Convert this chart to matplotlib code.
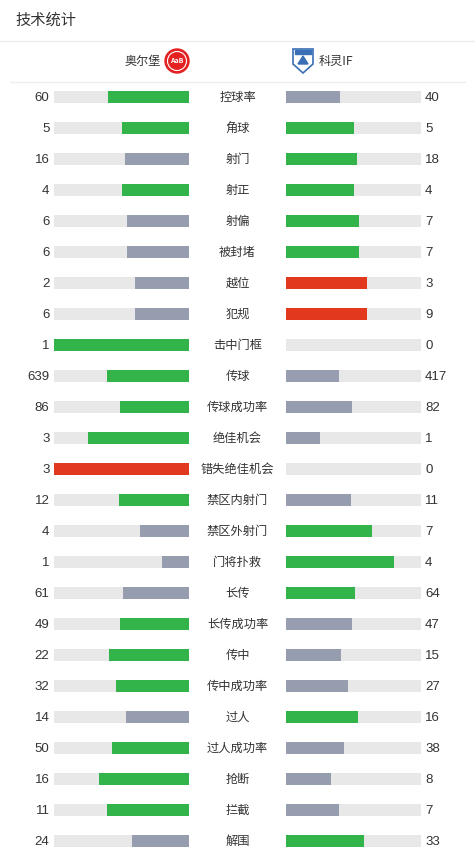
import matplotlib
matplotlib.use("Agg")
import matplotlib.pyplot as plt
from matplotlib.patches import Circle, Polygon

plt.rcParams['font.family'] = ['Noto Sans CJK SC', 'DejaVu Sans']

# 数据
home_team = '奥尔堡'
away_team = '科灵IF'
stats = ['控球率', '角球', '射门', '射正', '射偏', '被封堵', '越位', '犯规', '击中门框',
         '传球', '传球成功率', '绝佳机会', '错失绝佳机会', '禁区内射门', '禁区外射门',
         '门将扑救', '长传', '长传成功率', '传中', '传中成功率', '过人', '过人成功率',
         '抢断', '拦截', '解围']
home_vals = [60, 5, 16, 4, 6, 6, 2, 6, 1, 639, 86, 3, 3, 12, 4, 1, 61, 49, 22, 32, 14, 50, 16, 11, 24]
away_vals = [40, 5, 18, 4, 7, 7, 3, 9, 0, 417, 82, 1, 0, 11, 7, 4, 64, 47, 15, 27, 16, 38, 8, 7, 33]
negative_stats = {'越位', '犯规', '错失绝佳机会'}

GREEN = '#32b44a'
GRAY = '#959daf'
RED = '#e2391e'
TRACK = '#e8e8e8'
TEXT = '#333333'
NUM_FONT = ['Liberation Sans', 'DejaVu Sans']

def bar_color(stat, mine, other):
    if stat in negative_stats:
        return RED if mine > other else GRAY
    return GREEN if mine >= other else GRAY

W, H = 475, 857
fig = plt.figure(figsize=(W / 100, H / 100), dpi=100, facecolor='white')
ax = fig.add_axes([0, 0, 1, 1])
ax.set_xlim(0, W)
ax.set_ylim(H, 0)
ax.axis('off')

# 标题
ax.text(15, 20, '技术统计', fontsize=11, color=TEXT, va='center', ha='left')
ax.plot([0, W], [40.5, 40.5], color='#eeeeee', lw=1)
ax.plot([10, 465], [81.5, 81.5], color='#eeeeee', lw=1)

# 球队
ax.text(161, 61, home_team, fontsize=8.7, color=TEXT, va='center', ha='right')
ax.add_patch(Circle((177, 61), 12, color='#e32221'))
ax.add_patch(Circle((177, 61), 9.5, fill=False, ec='white', lw=0.8))
ax.text(177, 60, 'AaB', fontsize=5, color='white', ha='center', va='center', fontweight='bold')
shield = [(293, 49), (313, 49), (313, 64), (303, 73), (293, 64)]
ax.add_patch(Polygon(shield, closed=True, fc='white', ec='#3a6fb5', lw=1.2))
ax.add_patch(Polygon([(295, 50), (311, 50), (311, 54), (295, 54)], closed=True, color='#3a6fb5'))
ax.add_patch(Polygon([(303, 56), (308, 64), (298, 64)], closed=True, color='#3a6fb5'))
ax.text(319, 61, away_team, fontsize=8.7, color=TEXT, va='center', ha='left')

# 统计条
track_len = 135
left_end = 189
right_start = 286
bar_h = 12
y0, dy = 97, 31
for i, stat in enumerate(stats):
    y = y0 + i * dy
    h, a = home_vals[i], away_vals[i]
    total = h + a
    fh = h / total if total else 0
    fa = a / total if total else 0
    ax.barh(y, track_len, left=left_end - track_len, height=bar_h, color=TRACK)
    ax.barh(y, track_len, left=right_start, height=bar_h, color=TRACK)
    if h > 0:
        ax.barh(y, fh * track_len, left=left_end - fh * track_len, height=bar_h,
                color=bar_color(stat, h, a))
    if a > 0:
        ax.barh(y, fa * track_len, left=right_start, height=bar_h,
                color=bar_color(stat, a, h))
    ax.text(49.5, y + 1, str(h), fontsize=9.5, color=TEXT, va='center', ha='right', family=NUM_FONT)
    ax.text(425, y + 1, str(a), fontsize=9.5, color=TEXT, va='center', ha='left', family=NUM_FONT)
    ax.text(237.5, y, stat, fontsize=8.8, color=TEXT, va='center', ha='center')

fig.savefig('out.png', dpi=100, facecolor='white')
